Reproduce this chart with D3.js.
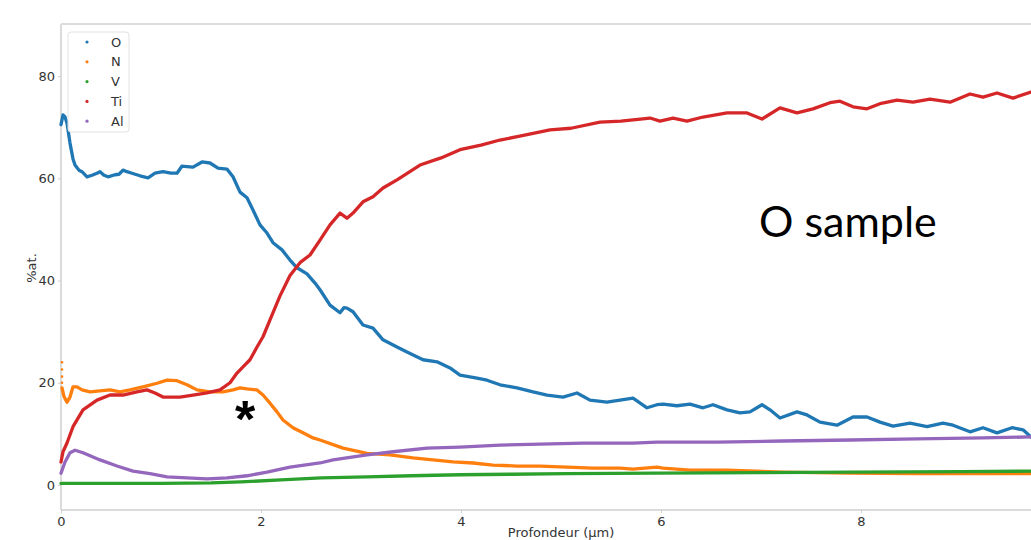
<!DOCTYPE html>
<html>
<head>
<meta charset="utf-8">
<script src="https://cdn.jsdelivr.net/npm/d3@7"></script>
<style>
  html, body { margin: 0; padding: 0; background: #fff; }
  svg { display: block; }
</style>
</head>
<body>
<svg id="chart" width="1031" height="540"></svg>
<script>
// Depth profiles (µm, at.%) for each element
const seriesO = [[0,70.5],[0.02,72.4],[0.04,72],[0.06,70.8],[0.09,66.9],[0.12,63.8],[0.14,62.6],[0.18,61.6],[0.21,61.3],[0.26,60.3],[0.31,60.6],[0.36,61.0],[0.39,61.3],[0.43,60.6],[0.47,60.3],[0.54,60.7],[0.58,60.8],[0.62,61.6],[0.66,61.3],[0.71,61.0],[0.79,60.5],[0.87,60.1],[0.9,60.5],[0.94,61.0],[1.02,61.3],[1.1,61.0],[1.16,61.0],[1.21,62.4],[1.26,62.3],[1.32,62.2],[1.41,63.2],[1.49,63.0],[1.57,62.0],[1.66,61.8],[1.72,60.3],[1.79,57.3],[1.86,56.2],[1.92,53.8],[1.99,50.9],[2.06,49.3],[2.12,47.4],[2.21,46.0],[2.29,44.0],[2.36,42.5],[2.46,41.3],[2.54,39.5],[2.59,38.2],[2.69,35.2],[2.79,33.7],[2.83,34.7],[2.86,34.6],[2.92,33.9],[3.02,31.3],[3.12,30.7],[3.22,28.4],[3.36,27.0],[3.46,26.0],[3.62,24.5],[3.76,24.1],[3.89,22.9],[3.99,21.5],[4.16,20.9],[4.26,20.5],[4.39,19.6],[4.56,19.0],[4.72,18.2],[4.86,17.6],[5.02,17.2],[5.16,18.0],[5.29,16.6],[5.46,16.2],[5.59,16.6],[5.72,17.0],[5.86,15.1],[5.96,15.7],[6.02,15.8],[6.16,15.5],[6.29,15.8],[6.42,15.1],[6.52,15.7],[6.66,14.7],[6.79,14.1],[6.89,14.3],[7.01,15.7],[7.09,14.7],[7.19,13.1],[7.36,14.3],[7.46,13.7],[7.59,12.3],[7.76,11.7],[7.92,13.3],[8.06,13.3],[8.19,12.3],[8.32,11.5],[8.49,12.1],[8.66,11.4],[8.82,12.1],[8.92,11.7],[9.09,10.4],[9.22,11.2],[9.36,10.2],[9.51,11.2],[9.62,10.8],[9.7,9.4]];
const seriesNStart = [[0,24.0],[0,22.6],[0,21.2],[0,20.0]];
const seriesN = [[0.01,19.0],[0.03,17.3],[0.06,16.2],[0.09,17.2],[0.12,19.2],[0.16,19.2],[0.21,18.6],[0.29,18.2],[0.39,18.4],[0.49,18.6],[0.59,18.2],[0.69,18.6],[0.82,19.2],[0.96,19.9],[1.06,20.5],[1.16,20.4],[1.26,19.6],[1.36,18.6],[1.49,18.2],[1.62,18.2],[1.72,18.6],[1.79,19.0],[1.86,18.8],[1.96,18.6],[2.02,17.6],[2.09,16.0],[2.16,14.3],[2.22,12.7],[2.32,11.2],[2.42,10.2],[2.52,9.2],[2.59,8.8],[2.82,7.2],[3.06,6.2],[3.29,5.9],[3.52,5.3],[3.72,4.9],[3.92,4.5],[4.12,4.3],[4.32,3.9],[4.56,3.7],[4.79,3.7],[5.06,3.5],[5.32,3.3],[5.59,3.3],[5.72,3.1],[5.96,3.5],[6.02,3.3],[6.29,2.9],[6.66,2.9],[7.22,2.5],[7.89,2.3],[8.56,2.2],[9.22,2.2],[9.7,2.2]];
const seriesV = [[0,0.3],[0.5,0.3],[1.0,0.3],[1.5,0.4],[1.8,0.6],[2.2,1.0],[2.6,1.4],[3.06,1.6],[3.5,1.8],[3.99,2.0],[4.5,2.1],[5.06,2.2],[5.96,2.3],[7.0,2.4],[7.9,2.5],[9.0,2.6],[9.7,2.7]];
const seriesTi = [[0,4.5],[0.02,6.5],[0.06,8.2],[0.12,11.4],[0.22,14.7],[0.36,16.6],[0.49,17.6],[0.62,17.6],[0.76,18.2],[0.86,18.6],[0.94,18.0],[1.02,17.2],[1.19,17.2],[1.32,17.6],[1.46,18.0],[1.59,18.6],[1.69,20.0],[1.76,21.9],[1.82,23.1],[1.89,24.5],[1.96,27.0],[2.02,29.0],[2.09,32.3],[2.19,37.0],[2.29,41.0],[2.39,43.5],[2.49,45.0],[2.59,47.9],[2.69,50.9],[2.79,53.2],[2.86,52.2],[2.92,53.2],[3.02,55.4],[3.12,56.4],[3.22,58.1],[3.36,59.7],[3.59,62.6],[3.8,64.0],[3.99,65.6],[4.2,66.5],[4.39,67.5],[4.6,68.3],[4.89,69.5],[5.1,69.8],[5.39,71.0],[5.6,71.2],[5.89,71.8],[5.99,71.2],[6.12,71.8],[6.26,71.2],[6.42,72.0],[6.66,72.8],[6.86,72.8],[7.01,71.6],[7.19,73.8],[7.36,72.8],[7.52,73.6],[7.69,74.8],[7.79,75.1],[7.92,74.0],[8.06,73.6],[8.19,74.6],[8.36,75.3],[8.52,74.9],[8.69,75.5],[8.89,74.9],[9.09,76.5],[9.22,75.9],[9.36,76.7],[9.52,75.7],[9.7,76.9]];
const seriesAl = [[0,2.3],[0.04,4.5],[0.09,6.3],[0.14,6.8],[0.22,6.3],[0.39,4.9],[0.56,3.7],[0.72,2.7],[0.89,2.2],[1.06,1.6],[1.26,1.4],[1.46,1.2],[1.66,1.4],[1.86,1.8],[2.06,2.5],[2.29,3.5],[2.59,4.3],[2.72,4.9],[3.06,5.9],[3.32,6.5],[3.66,7.2],[3.99,7.4],[4.39,7.8],[4.79,8.0],[5.22,8.2],[5.72,8.2],[5.96,8.4],[6.56,8.4],[7.22,8.6],[7.89,8.8],[8.56,9.0],[9.22,9.2],[9.7,9.4]];

const elementNames = ["O", "N", "V", "Ti", "Al"];
const elementColors = ["#1f77b4", "#ff7f0e", "#2ca02c", "#d62728", "#9467bd"];
const xTicks = [0, 2, 4, 6, 8];
const yTicks = [0, 20, 40, 60, 80];
const xTitle = "Profondeur (µm)";
const yTitle = "%at.";
const sampleLabel = "O sample";

const svg = d3.select("#chart");
const frame = { left: 61, right: 1031, top: 24, bottom: 510 };

const x = d3.scaleLinear().domain([0, 9.7]).range([frame.left, frame.right]);
const y = d3.scaleLinear().domain([-4.9, 90.2]).range([frame.bottom, frame.top]);

// Axes frame (left, top, bottom spines)
const spine = "#cfcfcf";
svg.append("line").attr("x1", frame.left).attr("x2", frame.left).attr("y1", frame.top).attr("y2", frame.bottom)
  .attr("stroke", spine).attr("stroke-width", 1.5);
svg.append("line").attr("x1", frame.left).attr("x2", frame.right).attr("y1", frame.top).attr("y2", frame.top)
  .attr("stroke", "#dcdcdc").attr("stroke-width", 2);
svg.append("line").attr("x1", frame.left).attr("x2", frame.right).attr("y1", frame.bottom).attr("y2", frame.bottom)
  .attr("stroke", spine).attr("stroke-width", 1.5);

// Axis ticks and labels
const xAxis = svg.append("g").attr("transform", `translate(0,${frame.bottom})`)
  .call(d3.axisBottom(x).tickValues(xTicks).tickFormat(d3.format("d")).tickSize(3).tickPadding(4));
const yAxis = svg.append("g").attr("transform", `translate(${frame.left},0)`)
  .call(d3.axisLeft(y).tickValues(yTicks).tickFormat(d3.format("d")).tickSize(3).tickPadding(3));
[xAxis, yAxis].forEach(g => {
  g.select(".domain").remove();
  g.selectAll(".tick line").attr("stroke", spine);
  g.selectAll(".tick text").attr("fill", "#333").style("font-family", "DejaVu Sans, sans-serif").style("font-size", "13px");
});

svg.append("text").attr("x", 561).attr("y", 537).attr("text-anchor", "middle")
  .attr("fill", "#333").style("font-family", "DejaVu Sans, sans-serif").style("font-size", "13px").text(xTitle);
svg.append("text").attr("transform", "translate(36,268) rotate(-90)").attr("text-anchor", "middle")
  .attr("fill", "#333").style("font-family", "DejaVu Sans, sans-serif").style("font-size", "13px").text(yTitle);

// Profile lines
const line = d3.line().x(d => x(d[0])).y(d => y(d[1]));
const plot = svg.append("g");
const allSeries = [seriesO, seriesN, seriesV, seriesTi, seriesAl];
allSeries.forEach((s, i) => {
  plot.append("path").datum(s).attr("d", line)
    .attr("fill", "none").attr("stroke", elementColors[i]).attr("stroke-width", 3.3)
    .attr("stroke-linejoin", "round").attr("stroke-linecap", "round");
});
// sparse first nitrogen readings at the surface
plot.selectAll("circle.nstart").data(seriesNStart).join("circle")
  .attr("cx", d => x(d[0]) + 1).attr("cy", d => y(d[1])).attr("r", 1.3).attr("fill", elementColors[1]);

// Legend
const legend = svg.append("g");
legend.append("rect").attr("x", 68).attr("y", 32).attr("width", 61).attr("height", 100).attr("rx", 3)
  .attr("fill", "#fff").attr("fill-opacity", 0.85).attr("stroke", "#e2e2e2");
elementNames.forEach((name, i) => {
  const cy = 42 + i * 19.8;
  legend.append("circle").attr("cx", 87).attr("cy", cy).attr("r", 1.6).attr("fill", elementColors[i]);
  legend.append("text").attr("x", 111).attr("y", cy + 4.5).attr("fill", "#333")
    .style("font-family", "DejaVu Sans, sans-serif").style("font-size", "13px").text(name);
});

// Annotations
svg.append("text").attr("x", 759).attr("y", 237).attr("fill", "#000")
  .style("font-family", "Lato, sans-serif").style("font-size", "43px").text(sampleLabel);
svg.append("text").attr("x", 245).attr("y", 437).attr("text-anchor", "middle").attr("fill", "#000")
  .style("font-family", "Liberation Sans, sans-serif").style("font-weight", "bold").style("font-size", "52px").text("*");
</script>
</body>
</html>
